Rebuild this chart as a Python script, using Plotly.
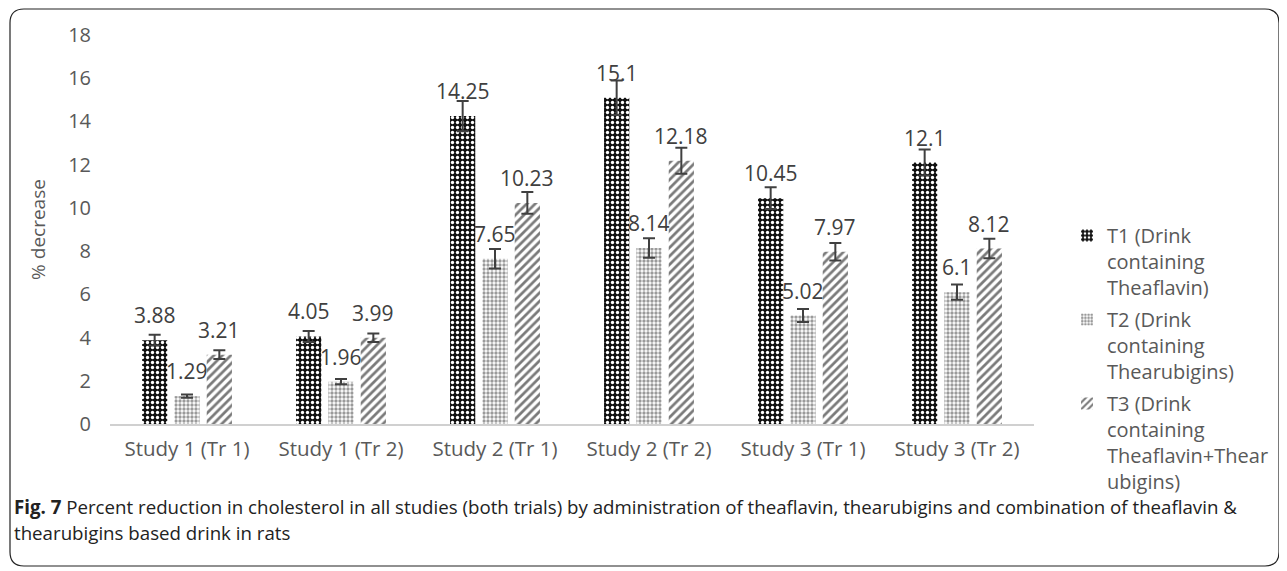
import plotly.graph_objects as go

categories = ["Study 1 (Tr 1)", "Study 1 (Tr 2)", "Study 2 (Tr 1)", "Study 2 (Tr 2)", "Study 3 (Tr 1)", "Study 3 (Tr 2)"]
t1_values = [3.88, 4.05, 14.25, 15.1, 10.45, 12.1]
t2_values = [1.29, 1.96, 7.65, 8.14, 5.02, 6.1]
t3_values = [3.21, 3.99, 10.23, 12.18, 7.97, 8.12]
t1_err = [0.25, 0.25, 0.7, 0.8, 0.5, 0.6]
t2_err = [0.08, 0.12, 0.45, 0.45, 0.3, 0.35]
t3_err = [0.2, 0.2, 0.5, 0.6, 0.4, 0.45]
series_names = ["T1 (Drink<br>containing<br>Theaflavin)",
                "T2 (Drink<br>containing<br>Thearubigins)",
                "T3 (Drink<br>containing<br>Theaflavin+Thear<br>ubigins)"]
y_ticks = [0, 2, 4, 6, 8, 10, 12, 14, 16, 18]

# page has an 8px body margin, so the figure is drawn 8px in from the corner
OFF = 8
W, H = 1287 - OFF, 571 - OFF
L, R, T, B = 110 - OFF, 1287 - 1034, 35 - OFF, 571 - 424
PW, PH = W - L - R, H - T - B
bargap, bargroupgap = 0.37, 0.22
slot = PW / len(categories) * (1 - bargap) / 3

patterns = [
    dict(shape=".", bgcolor="#111111", fgcolor="#ffffff", size=5, solidity=0.35, fillmode="replace"),
    dict(shape=".", bgcolor="#ffffff", fgcolor="#9a9a9a", size=4, solidity=0.55, fillmode="replace"),
    dict(shape="/", bgcolor="#ffffff", fgcolor="#7a7a7a", size=6, solidity=0.45, fillmode="replace"),
]

fig = go.Figure()
all_vals = [t1_values, t2_values, t3_values]
all_errs = [t1_err, t2_err, t3_err]
for i in range(3):
    fig.add_trace(go.Bar(
        x=categories, y=all_vals[i], name=series_names[i], legendgroup=f"g{i}",
        marker=dict(color="#ffffff", pattern=patterns[i], line=dict(width=0)),
        error_y=dict(type="data", array=all_errs[i], color="#404040", thickness=2, width=6),
    ))
    for c, v in zip(categories, all_vals[i]):
        fig.add_annotation(x=c, y=v, text=f"{v:g}", showarrow=False, yanchor="middle",
                           xshift=(i - 1) * slot, yshift=25,
                           font=dict(family="Open Sans, Calibri, sans-serif", size=21, color="#404040"))

def px_x(px):
    return (px - OFF - L) / PW

def px_y(py):
    return (H - B - (py - OFF)) / PH

# rounded border
x0, x1, y0, y1, rr = 10, 1279, 9, 566, 14
path = (f"M {px_x(x0+rr)},{px_y(y0)} L {px_x(x1-rr)},{px_y(y0)} "
        f"Q {px_x(x1)},{px_y(y0)} {px_x(x1)},{px_y(y0+rr)} L {px_x(x1)},{px_y(y1-rr)} "
        f"Q {px_x(x1)},{px_y(y1)} {px_x(x1-rr)},{px_y(y1)} L {px_x(x0+rr)},{px_y(y1)} "
        f"Q {px_x(x0)},{px_y(y1)} {px_x(x0)},{px_y(y1-rr)} L {px_x(x0)},{px_y(y0+rr)} "
        f"Q {px_x(x0)},{px_y(y0)} {px_x(x0+rr)},{px_y(y0)} Z")
fig.add_shape(type="path", path=path, xref="paper", yref="paper", line=dict(color="#222222", width=1.2))

cap_font = dict(family="Open Sans, sans-serif", size=18.7, color="#222222")
fig.add_annotation(xref="paper", yref="paper", x=px_x(12), y=px_y(506), xanchor="left", yanchor="middle",
                   showarrow=False, align="left", font=cap_font,
                   text="<b>Fig. 7</b> Percent reduction in cholesterol in all studies (both trials) by administration of theaflavin, thearubigins and combination of theaflavin &amp;")
fig.add_annotation(xref="paper", yref="paper", x=px_x(12), y=px_y(532), xanchor="left", yanchor="middle",
                   showarrow=False, align="left", font=cap_font,
                   text="thearubigins based drink in rats")

fig.update_layout(
    width=W, height=H, margin=dict(l=L, r=R, t=T, b=B),
    plot_bgcolor="white", paper_bgcolor="white",
    barmode="group", bargap=bargap, bargroupgap=bargroupgap,
    font=dict(family="Open Sans, Calibri, sans-serif", color="#595959"),
    legend=dict(x=px_x(1067), y=px_y(216), xanchor="left", yanchor="top",
                font=dict(size=20, color="#595959"), tracegroupgap=3,
                traceorder="grouped", itemwidth=30, valign="top"),
    showlegend=True,
)
fig.update_xaxes(showline=True, linecolor="#d0d0d0", linewidth=1.5, showgrid=False,
                 tickfont=dict(size=20.5, color="#595959"), ticks="", ticklabelstandoff=6)
fig.update_yaxes(range=[0, 18], tickvals=y_ticks, showgrid=False, zeroline=False, showline=False,
                 tickfont=dict(size=20, color="#595959"), ticklabelstandoff=18,
                 title=dict(text="% decrease", font=dict(size=19, color="#595959"), standoff=17))

fig.write_html("out.html")
